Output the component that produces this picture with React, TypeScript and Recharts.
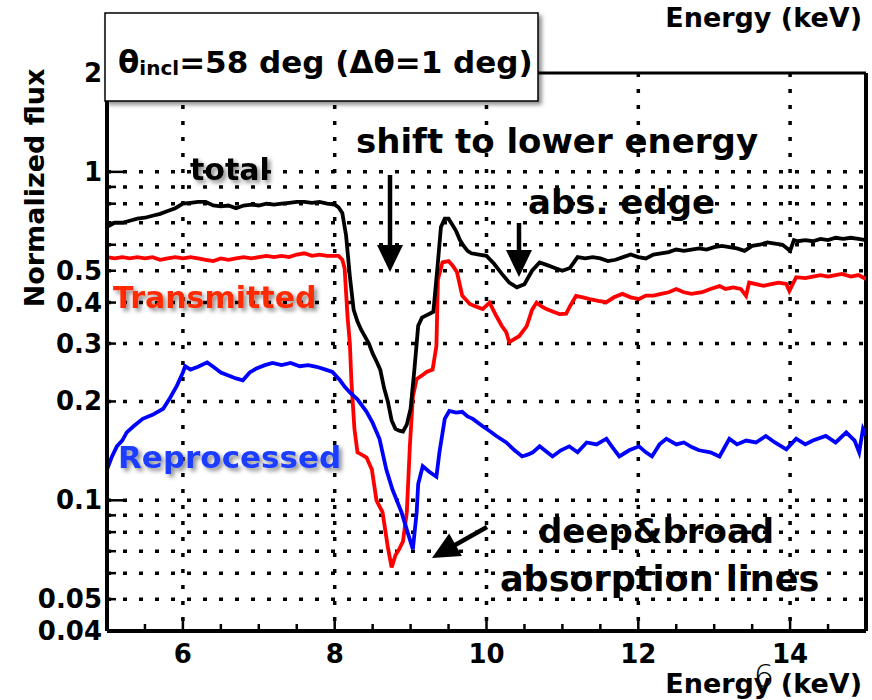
import React from 'react';
import { LineChart, Line, XAxis, YAxis, CartesianGrid, ReferenceLine } from 'recharts';

// spectra as [energy (keV), normalized flux]
const totalSpec: [number, number][] = [
  [5.0, 0.68], [5.1, 0.70], [5.2, 0.70], [5.3, 0.71], [5.4, 0.72], [5.5, 0.725], [5.6, 0.735], [5.7, 0.745],
  [5.8, 0.76], [5.9, 0.775], [6.0, 0.8], [6.1, 0.805], [6.2, 0.81], [6.3, 0.81], [6.4, 0.79], [6.5, 0.785],
  [6.6, 0.79], [6.7, 0.775], [6.8, 0.79], [6.9, 0.795], [7.0, 0.79], [7.1, 0.8], [7.2, 0.795], [7.3, 0.8],
  [7.4, 0.805], [7.5, 0.81], [7.6, 0.81], [7.7, 0.805], [7.8, 0.81], [7.9, 0.8], [8.0, 0.795], [8.05, 0.78],
  [8.1, 0.75], [8.15, 0.64], [8.2, 0.48], [8.25, 0.38], [8.3, 0.35], [8.35, 0.33], [8.4, 0.315], [8.45, 0.3],
  [8.5, 0.28], [8.55, 0.265], [8.6, 0.25], [8.65, 0.22], [8.7, 0.2], [8.75, 0.175], [8.8, 0.165], [8.85, 0.163],
  [8.9, 0.162], [8.95, 0.17], [9.0, 0.19], [9.05, 0.25], [9.1, 0.34], [9.15, 0.36], [9.2, 0.365], [9.25, 0.37],
  [9.3, 0.375], [9.35, 0.5], [9.4, 0.68], [9.45, 0.72], [9.5, 0.72], [9.55, 0.69], [9.6, 0.66], [9.65, 0.62],
  [9.7, 0.595], [9.75, 0.575], [9.8, 0.565], [9.9, 0.56], [10.0, 0.555], [10.1, 0.525], [10.2, 0.49], [10.3, 0.46],
  [10.4, 0.445], [10.5, 0.455], [10.6, 0.5], [10.7, 0.53], [10.8, 0.52], [10.9, 0.51], [11.0, 0.5], [11.1, 0.51],
  [11.2, 0.55], [11.3, 0.545], [11.4, 0.55], [11.5, 0.545], [11.6, 0.535], [11.7, 0.54], [11.8, 0.55], [11.9, 0.56],
  [12.0, 0.55], [12.1, 0.545], [12.2, 0.56], [12.3, 0.565], [12.4, 0.57], [12.5, 0.58], [12.6, 0.575], [12.7, 0.58],
  [12.8, 0.585], [12.9, 0.58], [13.0, 0.59], [13.1, 0.595], [13.2, 0.59], [13.3, 0.585], [13.4, 0.575], [13.5, 0.595],
  [13.6, 0.6], [13.7, 0.61], [13.8, 0.605], [13.9, 0.6], [14.0, 0.575], [14.05, 0.62], [14.1, 0.615], [14.2, 0.62],
  [14.3, 0.615], [14.4, 0.625], [14.5, 0.62], [14.6, 0.63], [14.7, 0.625], [14.8, 0.63], [14.9, 0.625], [15.0, 0.62],
];

const transmittedSpec: [number, number][] = [
  [5.0, 0.55], [5.1, 0.545], [5.2, 0.55], [5.3, 0.545], [5.4, 0.55], [5.5, 0.545], [5.6, 0.55], [5.7, 0.54],
  [5.8, 0.545], [5.9, 0.55], [6.0, 0.545], [6.1, 0.55], [6.2, 0.545], [6.3, 0.54], [6.4, 0.535], [6.5, 0.545],
  [6.6, 0.54], [6.7, 0.545], [6.8, 0.55], [6.9, 0.545], [7.0, 0.55], [7.1, 0.555], [7.2, 0.55], [7.3, 0.555],
  [7.4, 0.55], [7.5, 0.56], [7.6, 0.565], [7.7, 0.555], [7.8, 0.56], [7.9, 0.555], [8.0, 0.555], [8.05, 0.555],
  [8.1, 0.54], [8.13, 0.51], [8.17, 0.36], [8.2, 0.3], [8.22, 0.23], [8.26, 0.165], [8.3, 0.14], [8.35, 0.138],
  [8.42, 0.135], [8.49, 0.124], [8.55, 0.1], [8.63, 0.092], [8.7, 0.072], [8.75, 0.0625], [8.8, 0.068], [8.85, 0.071],
  [8.9, 0.075], [8.95, 0.092], [8.99, 0.146], [9.03, 0.207], [9.08, 0.234], [9.15, 0.24], [9.21, 0.246], [9.29, 0.25],
  [9.34, 0.295], [9.36, 0.47], [9.42, 0.53], [9.5, 0.535], [9.55, 0.52], [9.61, 0.496], [9.68, 0.42], [9.78, 0.396],
  [9.85, 0.39], [9.95, 0.382], [10.04, 0.4], [10.13, 0.364], [10.2, 0.34], [10.26, 0.325], [10.3, 0.303], [10.37, 0.31],
  [10.43, 0.316], [10.53, 0.339], [10.6, 0.38], [10.66, 0.4], [10.72, 0.39], [10.79, 0.382], [10.88, 0.375], [10.96, 0.369],
  [11.05, 0.37], [11.1, 0.39], [11.18, 0.419], [11.27, 0.415], [11.36, 0.41], [11.47, 0.405], [11.58, 0.401], [11.68, 0.415],
  [11.79, 0.425], [11.9, 0.415], [12.01, 0.41], [12.1, 0.42], [12.2, 0.42], [12.3, 0.425], [12.4, 0.43], [12.5, 0.44],
  [12.6, 0.43], [12.7, 0.425], [12.84, 0.43], [12.95, 0.44], [13.07, 0.449], [13.15, 0.44], [13.25, 0.445], [13.35, 0.44],
  [13.42, 0.419], [13.46, 0.46], [13.55, 0.455], [13.65, 0.45], [13.75, 0.455], [13.85, 0.46], [13.95, 0.456], [13.99, 0.434],
  [14.08, 0.478], [14.2, 0.475], [14.3, 0.48], [14.4, 0.485], [14.5, 0.48], [14.6, 0.485], [14.68, 0.489], [14.8, 0.48],
  [14.9, 0.485], [15.0, 0.472],
];

const reprocessedSpec: [number, number][] = [
  [5.0, 0.124], [5.06, 0.135], [5.13, 0.146], [5.2, 0.152], [5.26, 0.161], [5.35, 0.168], [5.47, 0.177], [5.6, 0.182],
  [5.74, 0.19], [5.83, 0.205], [5.92, 0.223], [6.0, 0.245], [6.03, 0.256], [6.1, 0.25], [6.2, 0.255], [6.32, 0.263],
  [6.4, 0.255], [6.5, 0.245], [6.6, 0.24], [6.7, 0.235], [6.79, 0.232], [6.88, 0.245], [6.97, 0.252], [7.08, 0.258],
  [7.18, 0.262], [7.3, 0.258], [7.42, 0.262], [7.54, 0.256], [7.65, 0.258], [7.76, 0.255], [7.88, 0.25], [7.97, 0.246],
  [8.07, 0.232], [8.13, 0.222], [8.2, 0.213], [8.3, 0.203], [8.42, 0.186], [8.5, 0.172], [8.59, 0.154], [8.68, 0.124],
  [8.76, 0.108], [8.88, 0.092], [8.96, 0.08], [9.03, 0.071], [9.08, 0.092], [9.1, 0.112], [9.16, 0.127], [9.25, 0.122],
  [9.34, 0.118], [9.38, 0.14], [9.45, 0.177], [9.51, 0.187], [9.6, 0.185], [9.68, 0.186], [9.75, 0.18], [9.82, 0.177],
  [9.95, 0.168], [10.05, 0.162], [10.13, 0.157], [10.26, 0.15], [10.37, 0.142], [10.47, 0.136], [10.55, 0.138], [10.61, 0.14],
  [10.7, 0.146], [10.8, 0.14], [10.87, 0.136], [10.98, 0.142], [11.09, 0.146], [11.2, 0.14], [11.32, 0.15], [11.45, 0.148],
  [11.58, 0.154], [11.66, 0.145], [11.75, 0.136], [11.88, 0.142], [12.01, 0.146], [12.1, 0.14], [12.18, 0.136], [12.28, 0.148],
  [12.37, 0.154], [12.5, 0.148], [12.6, 0.15], [12.71, 0.145], [12.8, 0.142], [12.95, 0.14], [13.07, 0.136], [13.2, 0.154],
  [13.3, 0.148], [13.42, 0.152], [13.55, 0.15], [13.68, 0.157], [13.8, 0.15], [13.95, 0.143], [14.08, 0.154], [14.2, 0.148],
  [14.3, 0.152], [14.47, 0.157], [14.6, 0.15], [14.74, 0.161], [14.85, 0.152], [14.91, 0.14], [14.96, 0.165], [15.0, 0.158],
];

const energyTicks = [5.5, 6, 6.5, 7, 7.5, 8, 8.5, 9, 9.5, 10, 10.5, 11, 11.5, 12, 12.5, 13, 13.5, 14, 14.5];
const energyLabels = [6, 8, 10, 12, 14];
const fluxTicks = [0.04, 0.05, 0.06, 0.07, 0.08, 0.09, 0.1, 0.2, 0.3, 0.4, 0.5, 0.6, 0.7, 0.8, 0.9, 1, 2];
const fluxLabels = [0.04, 0.05, 0.1, 0.2, 0.3, 0.4, 0.5, 1, 2];
const fluxDecades = [0.1, 1];
const gridFlux = [0.05, 0.06, 0.07, 0.08, 0.09, 0.1, 0.2, 0.3, 0.4, 0.5, 0.6, 0.7, 0.8, 0.9, 1];

const toRows = (spec: [number, number][]) => spec.map(([e, f]) => ({ e, f }));

const FONT = '"DejaVu Sans", "Liberation Sans", sans-serif';

// ROOT-style ticks: marks point into the frame
function EnergyTick({ x, y, payload }: any) {
  const v = payload.value;
  const major = energyLabels.includes(v);
  return (
    <g>
      <line x1={x} x2={x} y1={y} y2={y - (major ? 13 : 7)} stroke="#000" strokeWidth={2.5} />
      {major && (
        <text x={x} y={y + 32} textAnchor="middle" fontFamily={FONT} fontWeight="bold" fontSize={26} fill="#000">
          {v}
        </text>
      )}
    </g>
  );
}

function FluxTick({ x, y, payload }: any) {
  const v = payload.value;
  const len = fluxDecades.includes(v) ? 18 : 9;
  return (
    <g>
      <line x1={x} x2={x + len} y1={y} y2={y} stroke="#000" strokeWidth={2.5} />
      {fluxLabels.includes(v) && (
        <text x={x - 5} y={y + 9} textAnchor="end" fontFamily={FONT} fontWeight="bold" fontSize={26} fill="#000">
          {v}
        </text>
      )}
    </g>
  );
}

function Arrow({ x1, y1, x2, y2 }: { x1: number; y1: number; x2: number; y2: number }) {
  const dx = x2 - x1;
  const dy = y2 - y1;
  const len = Math.hypot(dx, dy);
  const ux = dx / len;
  const uy = dy / len;
  const head = 27;
  const half = 13;
  const bx = x2 - ux * head;
  const by = y2 - uy * head;
  return (
    <g>
      <line x1={x1} y1={y1} x2={bx + ux * 2} y2={by + uy * 2} stroke="#000" strokeWidth={4.5} />
      <polygon
        points={`${x2},${y2} ${bx - uy * half},${by + ux * half} ${bx + uy * half},${by - ux * half}`}
        fill="#000"
      />
    </g>
  );
}

export default function App() {
  return (
    <div style={{ position: 'absolute', left: 0, top: 0, width: 872, height: 700, background: '#fff' }}>
      <LineChart width={872} height={700} margin={{ top: 73, right: 6, bottom: 29, left: 47 }}>
        <CartesianGrid
          stroke="#000"
          strokeWidth={3.5}
          strokeDasharray="4 12"
          horizontalValues={gridFlux}
          verticalValues={energyLabels}
        />
        <XAxis
          dataKey="e"
          type="number"
          domain={[5, 15]}
          ticks={energyTicks}
          interval={0}
          height={40}
          tickSize={0}
          tickMargin={0}
          tickLine={false}
          axisLine={{ stroke: '#000', strokeWidth: 4 }}
          tick={<EnergyTick />}
          allowDataOverflow
        />
        <YAxis
          type="number"
          scale="log"
          domain={[0.04, 2]}
          ticks={fluxTicks}
          interval={0}
          width={60}
          tickSize={0}
          tickMargin={0}
          tickLine={false}
          axisLine={{ stroke: '#000', strokeWidth: 4 }}
          tick={<FluxTick />}
          allowDataOverflow
        />
        <ReferenceLine x={15} stroke="#000" strokeWidth={4} />
        <ReferenceLine y={2} stroke="#000" strokeWidth={3} />
        <Line data={toRows(transmittedSpec)} dataKey="f" stroke="#ff0000" strokeWidth={3.8} dot={false} isAnimationActive={false} />
        <Line data={toRows(totalSpec)} dataKey="f" stroke="#000000" strokeWidth={3.8} dot={false} isAnimationActive={false} />
        <Line data={toRows(reprocessedSpec)} dataKey="f" stroke="#0000ff" strokeWidth={3.8} dot={false} isAnimationActive={false} />
      </LineChart>

      <svg width={872} height={700} style={{ position: 'absolute', left: 0, top: 0, pointerEvents: 'none' }}>
        <defs>
          <filter id="soft" x="-10%" y="-30%" width="130%" height="170%">
            <feDropShadow dx={3} dy={3} stdDeviation={2} floodColor="#000" floodOpacity={0.45} />
          </filter>
        </defs>

        <rect x={105} y={13} width={433} height={88} fill="#fff" stroke="#000" strokeWidth={1.5} filter="url(#soft)" />
        <text x={118} y={73} fontFamily={FONT} fontWeight="bold" fontSize={31} fill="#000">
          θ<tspan fontSize={20} dy={2}>incl</tspan>
          <tspan dy={-2}>=58 deg (Δθ=1 deg)</tspan>
        </text>

        <text x={862} y={27} textAnchor="end" fontFamily={FONT} fontWeight="bold" fontSize={27} fill="#000">
          Energy (keV)
        </text>
        <text x={862} y={693} textAnchor="end" fontFamily={FONT} fontWeight="bold" fontSize={27} fill="#000">
          Energy (keV)
        </text>
        <text x={764} y={687} textAnchor="middle" fontFamily={FONT} fontWeight={200} fontSize={32} fill="#000">
          6
        </text>
        <text
          transform="translate(44 188) rotate(-90)"
          textAnchor="middle"
          fontFamily={FONT}
          fontWeight="bold"
          fontSize={27}
          fill="#000"
        >
          Normalized flux
        </text>

        <text x={190} y={180} fontFamily={FONT} fontWeight="bold" fontSize={30} fill="#000" filter="url(#soft)">
          total
        </text>
        <text x={113} y={308} fontFamily={FONT} fontWeight="bold" fontSize={30} fill="#ff2a00" filter="url(#soft)">
          Transmitted
        </text>
        <text x={118} y={468} fontFamily={FONT} fontWeight="bold" fontSize={31} fill="#1a3cff" filter="url(#soft)">
          Reprocessed
        </text>

        <text x={356} y={153} fontFamily={FONT} fontWeight="bold" fontSize={34} fill="#000">
          shift to lower energy
        </text>
        <text x={528} y={214} fontFamily={FONT} fontWeight="bold" fontSize={34} fill="#000">
          abs. edge
        </text>
        <text x={538} y={543} fontFamily={FONT} fontWeight="bold" fontSize={34} fill="#000">
          deep&amp;broad
        </text>
        <text x={500} y={591} fontFamily={FONT} fontWeight="bold" fontSize={35} fill="#000">
          absorption lines
        </text>

        <Arrow x1={390} y1={175} x2={390} y2={272} />
        <Arrow x1={519} y1={223} x2={519} y2={277} />
        <Arrow x1={487} y1={527} x2={432} y2={558} />
      </svg>
    </div>
  );
}
